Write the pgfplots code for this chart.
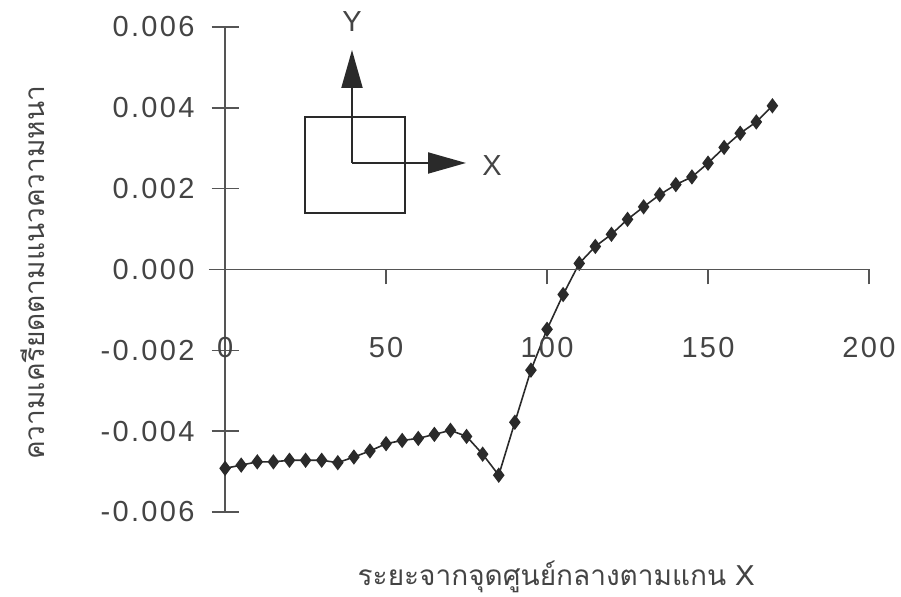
\documentclass[border=0pt]{standalone}
\usepackage{pgfplots}
\pgfplotsset{compat=1.18}
\usetikzlibrary{arrows.meta}
\usepackage{fontspec}
\setmainfont{Liberation Sans}
\newfontfamily\thaifont[Script=Thai]{Loma}
\newfontfamily\numfont[LetterSpace=8]{Liberation Sans}
\definecolor{ink}{HTML}{2A2A2A}
\definecolor{txt}{HTML}{444444}
\definecolor{axc}{HTML}{555555}
\begin{document}
\begin{tikzpicture}
\useasboundingbox (-104.5pt,-42.5pt) rectangle (346pt,256pt);
\pgfplotsset{
  base/.style={
    at={(0,0)}, anchor=south west,
    scale only axis, width=330pt, height=242.5pt,
    xmin=-5, xmax=200, ymin=-0.006, ymax=0.006,
    every tick/.style={axc, line width=0.8pt},
    hide obscured x ticks=false, hide obscured y ticks=false,
    /pgf/number format/assume math mode=true,
    ticklabel style={font=\numfont\fontsize{14.5}{16}\selectfont, text=txt},
    clip=false,
  },
  noarrows/.style={
    every inner x axis line/.append style={-},
    every inner y axis line/.append style={-},
    axis line style={-, axc, line width=0.8pt},
    x axis line style={-},
    y axis line style={-},
  }
}
\begin{axis}[base,
  axis x line=middle, axis y line=middle, noarrows,
  xtick=\empty,
  ytick={-0.006,-0.004,-0.002,0,0.002,0.004,0.006},
  scaled y ticks=false,
  yticklabel style={/pgf/number format/fixed, /pgf/number format/precision=3,
    /pgf/number format/fixed zerofill, anchor=east, xshift=-5pt},
  tick align=center, major tick length=13.5pt,
  ylabel={\thaifont ความเครียดตามแนวความหนา},
  ylabel style={at={(axis description cs:-0.2667,0.4928)}, anchor=center, rotate=90,
    font=\thaifont\fontsize{14}{16}\selectfont, text=txt},
]
\addplot[ink, line width=0.8pt, mark=diamond*, mark size=3.2pt, mark options={fill=ink, draw=ink}] coordinates {
(0,-0.00492) (5,-0.00484) (10,-0.00476) (15,-0.00476) (20,-0.00472) (25,-0.00472)
(30,-0.00472) (35,-0.00478) (40,-0.00464) (45,-0.00449) (50,-0.00431) (55,-0.00423)
(60,-0.00418) (65,-0.00408) (70,-0.00398) (75,-0.00413) (80,-0.00457) (85,-0.00509)
(90,-0.00378) (95,-0.00249) (100,-0.00148) (105,-0.00062) (110,0.00015) (115,0.00057)
(120,0.00087) (125,0.00124) (130,0.00155) (135,0.00185) (140,0.00210) (145,0.00229)
(150,0.00263) (155,0.00302) (160,0.00337) (165,0.00365) (170,0.00405)
};
\end{axis}
\begin{axis}[base,
  axis x line=middle, axis y line=none, noarrows,
  xtick={0,50,100,150,200},
  ytick=\empty,
  tick align=outside, major tick length=7.5pt,
  xticklabel style={anchor=center, yshift=-31.5pt},
  xlabel={\thaifont ระยะจากจุดศูนย์กลางตามแกน X},
  xlabel style={at={(axis description cs:0.5258,-0.134)}, anchor=center,
    font=\thaifont\fontsize{14}{16}\selectfont, text=txt},
]
\addplot[draw=none] coordinates {(0,0)};
\end{axis}
% inset sketch
\draw[ink, line width=1pt] (48pt,149.5pt) rectangle (98pt,197.5pt);
\draw[ink, line width=1pt, -{Triangle[length=19pt, width=10.5pt]}] (71.5pt,174.5pt) -- (71.5pt,231pt);
\draw[ink, line width=1pt, -{Triangle[length=19pt, width=10.5pt]}] (71.5pt,174.5pt) -- (128.5pt,174.5pt);
\node[text=txt, font=\numfont\fontsize{14.5}{16}\selectfont] at (71.5pt,245pt) {Y};
\node[text=txt, font=\numfont\fontsize{14.5}{16}\selectfont] at (141.5pt,173pt) {X};
\end{tikzpicture}
\end{document}
